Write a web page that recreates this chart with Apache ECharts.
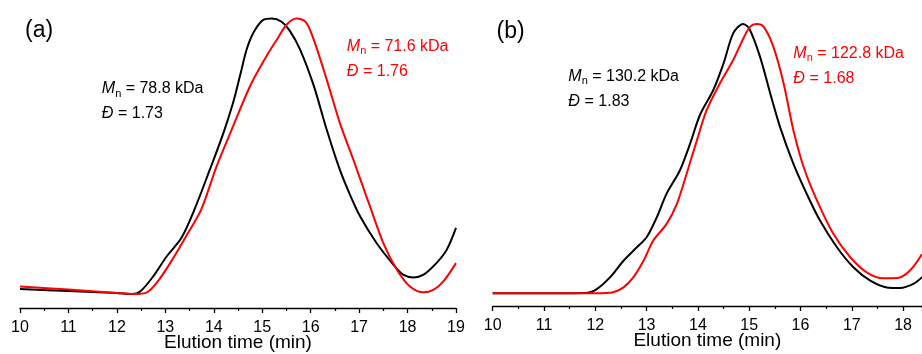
<!DOCTYPE html>
<html>
<head>
<meta charset="utf-8">
<script src="https://cdn.jsdelivr.net/npm/echarts@6/dist/echarts.min.js"></script>
<style>
  html, body { margin: 0; padding: 0; background: #fff; }
  #chart { width: 922px; height: 354px; }
</style>
</head>
<body>
<div id="chart"></div>
<script>
// elution time (min) vs. normalised RI signal
const aBlack = [
  [10, 0.018], [11, 0.011], [12, 0.004], [12.3, 0.0], [12.48, 0.009], [12.75, 0.064],
  [13.03, 0.137], [13.33, 0.203], [13.6, 0.306], [13.92, 0.452], [14.2, 0.585],
  [14.4, 0.695], [14.54, 0.791], [14.68, 0.888], [14.82, 0.949], [15.02, 0.995],
  [15.2, 1.0], [15.4, 0.988], [15.57, 0.955], [15.78, 0.888], [16.06, 0.758],
  [16.33, 0.597], [16.6, 0.452], [16.8, 0.365], [17.02, 0.282], [17.36, 0.185],
  [17.71, 0.106], [17.91, 0.07], [18.12, 0.06], [18.33, 0.07], [18.6, 0.113],
  [18.81, 0.161], [19, 0.24]
]
const aRed = [
  [10, 0.027], [11, 0.016], [12, 0.004], [12.35, 0.0], [12.62, 0.006], [12.82, 0.04],
  [13.1, 0.112], [13.47, 0.222], [13.74, 0.306], [14.06, 0.464], [14.4, 0.609],
  [14.75, 0.755], [15.09, 0.864], [15.33, 0.931], [15.51, 0.979], [15.71, 1.0],
  [15.9, 0.987], [16.06, 0.925], [16.33, 0.779], [16.6, 0.622], [16.88, 0.488],
  [17.23, 0.315], [17.5, 0.185], [17.78, 0.088], [18.05, 0.027], [18.33, 0.006],
  [18.53, 0.015], [18.74, 0.046], [19, 0.112]
]
const bBlack = [
  [10, 0], [11, 0], [11.8, 0.001], [12.03, 0.016], [12.29, 0.06], [12.55, 0.121],
  [12.81, 0.171], [13.0, 0.208], [13.2, 0.283], [13.39, 0.37], [13.65, 0.457],
  [13.85, 0.557], [14.04, 0.662], [14.3, 0.755], [14.5, 0.854], [14.69, 0.966],
  [14.88, 1.0], [15.0, 0.983], [15.21, 0.879], [15.41, 0.742], [15.6, 0.618],
  [15.86, 0.482], [16.12, 0.37], [16.38, 0.27], [16.71, 0.171], [17.03, 0.097],
  [17.36, 0.047], [17.68, 0.022], [17.94, 0.02], [18.2, 0.035], [18.37, 0.06]
]
const bRed = [
  [10, 0], [11, 0], [12, 0], [12.35, 0.004], [12.55, 0.022], [12.74, 0.059],
  [12.94, 0.121], [13.13, 0.196], [13.39, 0.258], [13.59, 0.332], [13.78, 0.444],
  [13.98, 0.568], [14.17, 0.68], [14.43, 0.78], [14.69, 0.867], [14.89, 0.948],
  [15.02, 0.99], [15.15, 1.0], [15.28, 0.99], [15.47, 0.916], [15.67, 0.78],
  [15.86, 0.606], [16.06, 0.469], [16.32, 0.345], [16.64, 0.221], [16.97, 0.134],
  [17.29, 0.078], [17.61, 0.056], [17.88, 0.057], [18.13, 0.084], [18.37, 0.146]
]

const panelLabels = ['(a)', '(b)']
const mnLabels = { aBlack: '78.8', aRed: '71.6', bBlack: '130.2', bRed: '122.8' }
const dispLabels = { aBlack: '1.73', aRed: '1.76', bBlack: '1.83', bRed: '1.68' }
const xName = 'Elution time (min)'

const FONT = '"Liberation Sans", Arial, sans-serif'
const RED = '#ff0000'
const BLACK = '#000000'

const chart = echarts.init(document.getElementById('chart'), null, { renderer: 'canvas' })

const buildXAxis = (gridIndex, max) => ({
  type: 'value',
  gridIndex,
  min: 10,
  max,
  interval: 1,
  name: xName,
  nameLocation: 'middle',
  nameGap: 25,
  nameMoveOverlap: false,
  nameTextStyle: { color: BLACK, fontSize: 19, fontFamily: FONT },
  axisLine: { show: true, onZero: false, lineStyle: { color: BLACK, width: 1.3 } },
  axisTick: { show: true, inside: false, length: 5, lineStyle: { color: BLACK, width: 1.3 } },
  minorTick: { show: true, splitNumber: 2, length: 3, lineStyle: { color: BLACK, width: 1.2 } },
  axisLabel: {
    color: BLACK,
    fontSize: 16,
    fontFamily: FONT,
    margin: 12,
    showMaxLabel: max === 19,
    formatter: v => (Number.isInteger(v) ? String(v) : '')
  },
  splitLine: { show: false }
})

const buildYAxis = (gridIndex, min, max) => ({
  type: 'value',
  gridIndex,
  min,
  max,
  show: false
})

const trace = (name, data, color, idx) => ({
  name,
  type: 'line',
  xAxisIndex: idx,
  yAxisIndex: idx,
  data,
  smooth: 0.3,
  showSymbol: false,
  lineStyle: { color, width: 2 },
  z: color === RED ? 3 : 2
})

// M_n / Đ annotation, built from separate text pieces so the subscript sits low
const annotation = (x, y, key, color) => {
  const base = { fill: color, fontFamily: FONT, fontSize: 16, verticalAlign: 'middle' }
  return [
    { type: 'text', x, y, style: { ...base, text: 'M', fontStyle: 'italic' } },
    { type: 'text', x: x + 13.5, y: y + 4.5, style: { ...base, text: 'n', fontSize: 11 } },
    { type: 'text', x: x + 19.5, y, style: { ...base, text: ' = ' + mnLabels[key] + ' kDa' } },
    { type: 'text', x, y: y + 25, style: { ...base, text: 'Đ', fontStyle: 'italic' } },
    { type: 'text', x: x + 11.8, y: y + 25, style: { ...base, text: ' = ' + dispLabels[key] } }
  ]
}

chart.setOption({
  backgroundColor: '#ffffff',
  animation: false,
  grid: [
    { left: 20, width: 436, top: 0, height: 308, outerBoundsMode: 'none', containLabel: false },
    { left: 492.7, right: 0, top: 0, height: 306, outerBoundsMode: 'none', containLabel: false }
  ],
  xAxis: [buildXAxis(0, 19), buildXAxis(1, 18.368)],
  yAxis: [buildYAxis(0, -0.0508, 1.067), buildYAxis(1, -0.047, 1.089)],
  series: [
    trace('a-black', aBlack, BLACK, 0),
    trace('a-red', aRed, RED, 0),
    trace('b-black', bBlack, BLACK, 1),
    trace('b-red', bRed, RED, 1)
  ],
  graphic: [
    { type: 'text', x: 25, y: 31, style: { text: panelLabels[0], fill: BLACK, fontFamily: FONT, fontSize: 23, verticalAlign: 'middle' } },
    { type: 'text', x: 496.5, y: 32, style: { text: panelLabels[1], fill: BLACK, fontFamily: FONT, fontSize: 23, verticalAlign: 'middle' } },
    ...annotation(101.7, 89, 'aBlack', BLACK),
    ...annotation(346.7, 46.7, 'aRed', RED),
    ...annotation(568.3, 76.7, 'bBlack', BLACK),
    ...annotation(793.3, 53.3, 'bRed', RED)
  ]
})
</script>
</body>
</html>
